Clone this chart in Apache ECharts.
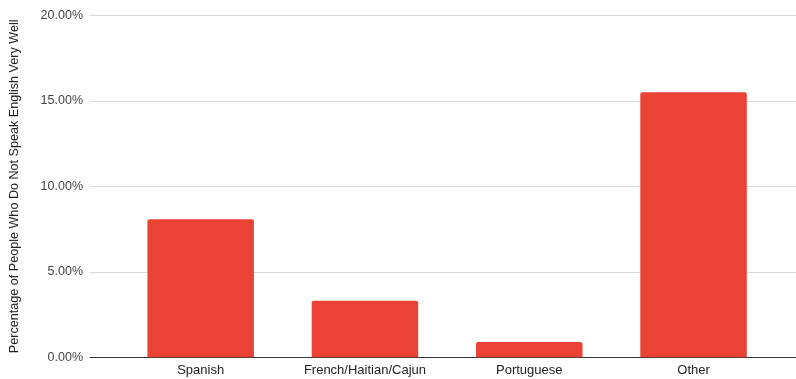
<!DOCTYPE html>
<html>
<head>
<meta charset="utf-8">
<script src="https://cdn.jsdelivr.net/npm/echarts@6/dist/echarts.min.js"></script>
<style>
  html, body { margin: 0; padding: 0; background: #fff; }
  #chart { width: 796px; height: 379px; }
</style>
</head>
<body>
<div id="chart"></div>
<script>
const categories = ['Spanish', 'French/Haitian/Cajun', 'Portuguese', 'Other'];
const values = [8.07, 3.31, 0.89, 15.5];
const yTicks = [0, 5, 10, 15, 20];

const chart = echarts.init(document.getElementById('chart'));
const font = 'Liberation Sans, Arial, sans-serif';

chart.setOption({
  animation: false,
  grid: [
    // frame: gridlines + baseline across full width
    { left: 90, right: 0, top: 15.3, bottom: 21.7, outerBoundsMode: 'none', containLabel: false },
    // bars
    { left: 118.5, right: 20.3, top: 15.3, bottom: 21.7, outerBoundsMode: 'none', containLabel: false }
  ],
  xAxis: [
    {
      gridIndex: 0,
      type: 'category',
      data: [''],
      axisLine: { show: true, lineStyle: { color: '#333', width: 1 } },
      axisTick: { show: false },
      axisLabel: { show: false }
    },
    {
      gridIndex: 1,
      type: 'category',
      data: categories,
      axisLine: { show: false },
      axisTick: { show: false },
      axisLabel: { color: '#222', fontSize: 13, fontFamily: font, margin: 7, interval: 0 }
    }
  ],
  yAxis: [
    {
      gridIndex: 0,
      type: 'value',
      min: 0,
      max: 20,
      interval: 5,
      name: 'Percentage of People Who Do Not Speak English Very Well',
      nameLocation: 'middle',
      nameGap: 69,
      nameTextStyle: { color: '#222', fontSize: 12.6, fontFamily: font },
      axisLine: { show: false },
      axisTick: { show: false },
      axisLabel: {
        color: '#444', fontSize: 12.5, fontFamily: font, margin: 7,
        formatter: v => yTicks.includes(v) ? v.toFixed(2) + '%' : ''
      },
      splitLine: { lineStyle: { color: '#d9d9d9', width: 1 } }
    },
    {
      gridIndex: 1,
      type: 'value',
      min: 0,
      max: 20,
      interval: 5,
      show: false,
      splitLine: { show: false }
    }
  ],
  series: [{
    type: 'bar',
    xAxisIndex: 1,
    yAxisIndex: 1,
    data: values,
    barWidth: 106.5,
    itemStyle: { color: '#ea4335', borderRadius: [2, 2, 0, 0] }
  }]
});
</script>
</body>
</html>
